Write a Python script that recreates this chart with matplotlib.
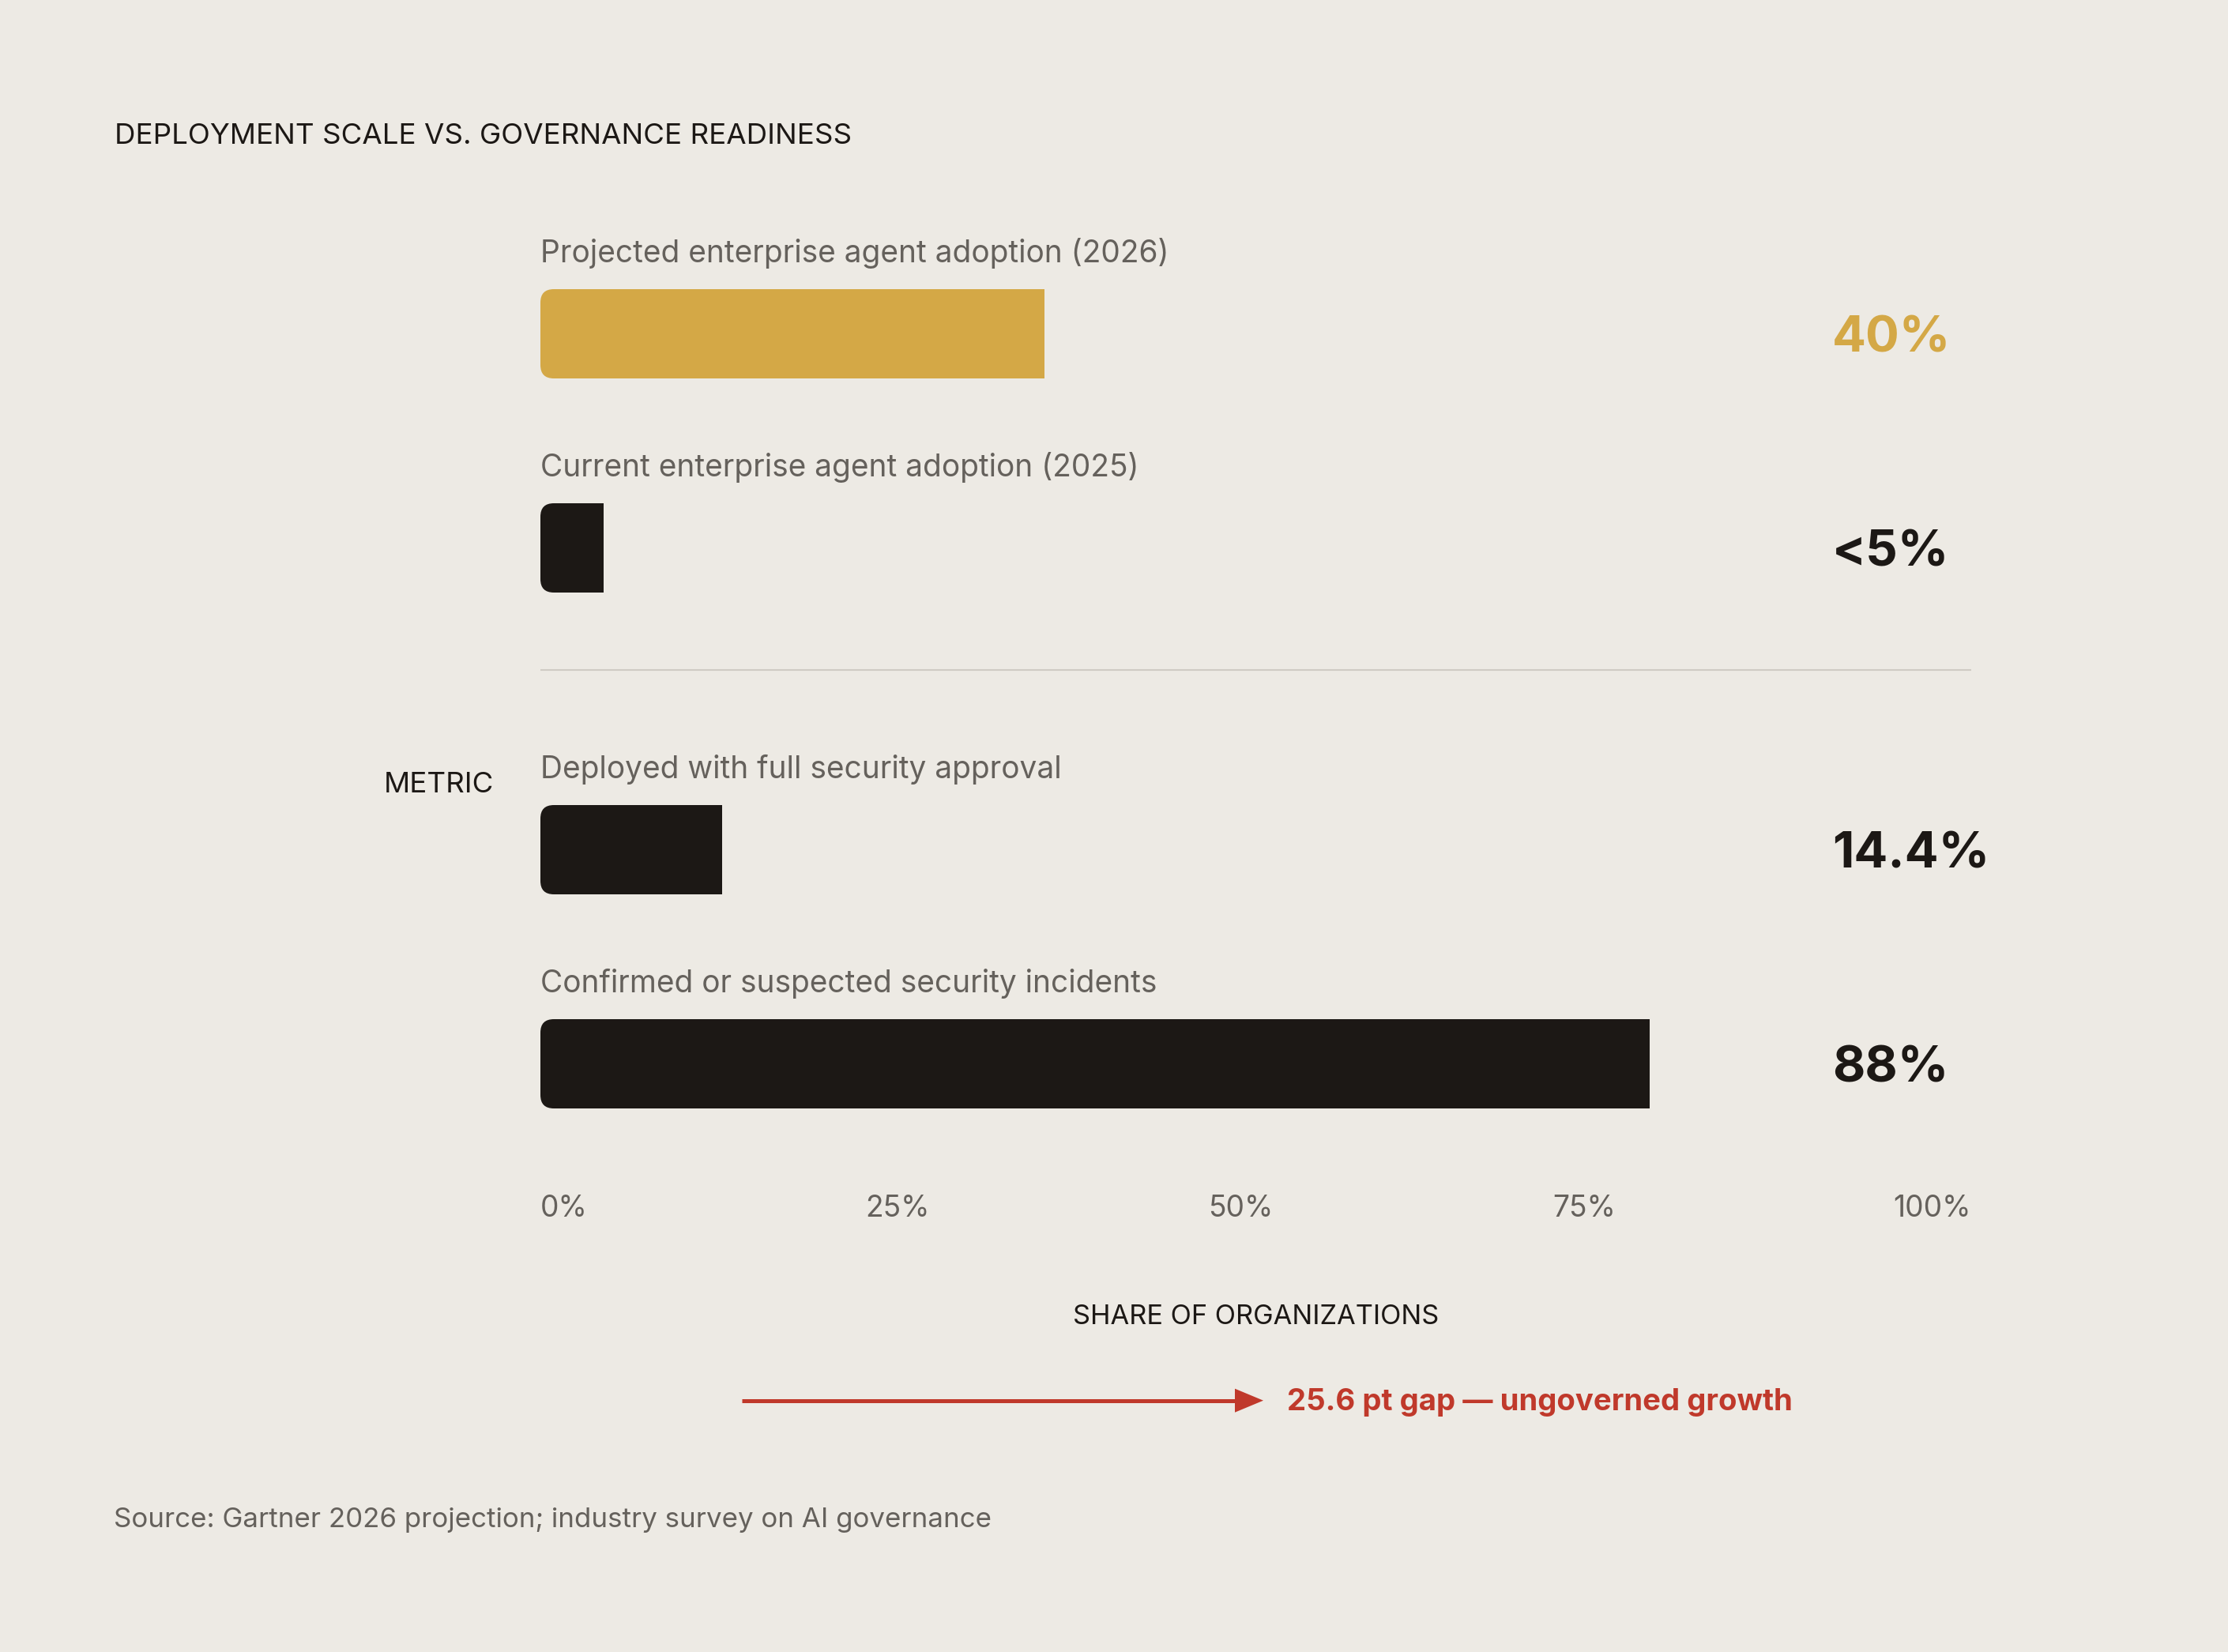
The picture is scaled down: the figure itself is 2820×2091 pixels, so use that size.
import matplotlib
matplotlib.use("Agg")
import matplotlib.pyplot as plt
from matplotlib.patches import FancyBboxPatch, Polygon
from matplotlib.lines import Line2D
from matplotlib.transforms import IdentityTransform, blended_transform_factory

# ---------------- data ----------------
categories = [
    "Projected enterprise agent adoption (2026)",
    "Current enterprise agent adoption (2025)",
    "Deployed with full security approval",
    "Confirmed or suspected security incidents",
]
values = [40, 5, 14.4, 88]
value_labels = ["40%", "<5%", "14.4%", "88%"]
tick_labels = ["0%", "25%", "50%", "75%", "100%"]
title_text = "DEPLOYMENT SCALE VS. GOVERNANCE READINESS"
group_label = "METRIC"
axis_title = "SHARE OF ORGANIZATIONS"
gap_label = "25.6 pt gap \u2014 ungoverned growth"
source_text = "Source: Gartner 2026 projection; industry survey on AI governance"

# ---------------- style ----------------
BG = "#EDEAE4"
GOLD = "#D4A846"
DARK = "#1C1815"
GRAY = "#65615C"
RED = "#C0392B"
RULE = "#CFCBC4"
bar_colors = [GOLD, DARK, DARK, DARK]

FONT = "Inter"
CAP = 0.727
plt.rcParams["font.family"] = [FONT, "DejaVu Sans"]

W, H = 2820, 2091
fig = plt.figure(figsize=(W / 100, H / 100), dpi=100)
fig.patch.set_facecolor(BG)
renderer = fig.canvas.get_renderer()


def fx(x):
    return x / W


def fy(y):
    return 1 - y / H


def pt(cap_px, ratio=CAP):
    return cap_px / ratio * 0.72


def fit(texts, targets):
    """Scale a group of texts to a common size matching target widths."""
    cur = sum(t.get_window_extent(renderer).width for t in texts)
    k = sum(targets) / cur
    for t in texts:
        t.set_fontsize(t.get_fontsize() * k)


# plotting area (pixel coords of the original layout)
LEFT, RIGHT = 684, 2495
PX_PER_PCT = 15.95
ax = fig.add_axes([fx(LEFT), 0, fx(RIGHT - LEFT), 1])
ax.set_xlim(0, (RIGHT - LEFT) / PX_PER_PCT)
ax.set_ylim(H, 0)
ax.axis("off")
ax.patch.set_alpha(0)

BAR_H = 113
first = 422.5
row_step = 271
group_gap = 111
centers = []
y = first
for i in range(len(values)):
    centers.append(y)
    y += row_step + (group_gap if i == 1 else 0)

bars = ax.barh(centers, values, height=BAR_H, color=bar_colors, linewidth=0)

# round only the left corners of each bar
for b in bars:
    x0, y0 = b.get_x(), b.get_y()
    (px0, py0) = ax.transData.transform((x0, y0 + b.get_height()))
    (px1, py1) = ax.transData.transform((x0 + b.get_width(), y0))
    clip = FancyBboxPatch((px0, py0), (px1 - px0) + 60, (py1 - py0),
                          boxstyle="round,pad=0,rounding_size=17",
                          transform=IdentityTransform())
    b.set_clip_path(clip)

# category labels and value labels
cat_texts = []
val_texts = []
for c, cat, vl, col in zip(centers, categories, value_labels, bar_colors):
    cat_texts.append(ax.text(0, c - BAR_H / 2 - 34, cat, ha="left", va="baseline",
                             fontsize=pt(26.5), color=GRAY))
    val_texts.append(fig.text(fx(2319), fy(c), vl, ha="left", va="baseline",
                              fontsize=pt(53), fontweight="bold", color=col))
fit(cat_texts, [796, 760, 649, 782])
fit(val_texts, [157, 141, 198, 150])
for t, c in zip(val_texts, centers):
    cap_px = t.get_fontsize() * 100 / 72 * CAP
    t.set_y(fy(c + cap_px / 2))

# divider between groups
ax.axhline(848, color=RULE, lw=1.5)

# tick row
tb = blended_transform_factory(ax.transAxes, ax.transData)
tick_pos = [0.0, 0.2496, 0.4892, 0.7294, 1.0]
tick_ha = ["left", "center", "center", "center", "right"]
for tl, tp, ha in zip(tick_labels, tick_pos, tick_ha):
    ax.text(tp, 1540, tl, transform=tb, ha=ha, va="baseline",
            fontsize=pt(27), color=GRAY)

ax.text(0.5, 1676, axis_title, transform=tb, ha="center", va="baseline",
        fontsize=pt(25), color=DARK)

# title, group label, source
fig.text(fx(145), fy(181.7), title_text, ha="left", va="baseline",
         fontsize=pt(26.7), color=DARK)
fig.text(fx(625), fy(1003), group_label, ha="right", va="baseline",
         fontsize=pt(26.7), color=DARK)
src = fig.text(fx(144), fy(1933), source_text, ha="left", va="baseline",
               fontsize=pt(25), color=GRAY)
fit([src], [1108])

# gap arrow
ay = 1772.7
fig.add_artist(Line2D([fx(939), fx(1565)], [fy(ay), fy(ay)], color=RED,
                      lw=3.6, solid_capstyle="butt", transform=fig.transFigure))
fig.add_artist(Polygon([(fx(1563), fy(ay - 15)), (fx(1599), fy(ay)),
                        (fx(1563), fy(ay + 15))], closed=True, color=RED,
                       lw=0, transform=fig.transFigure))
gap = fig.text(fx(1629), fy(1785), gap_label, ha="left", va="baseline",
               fontsize=pt(27), fontweight="bold", color=RED)
fit([gap], [641])

fig.savefig("out.png", dpi=100, facecolor=BG)
